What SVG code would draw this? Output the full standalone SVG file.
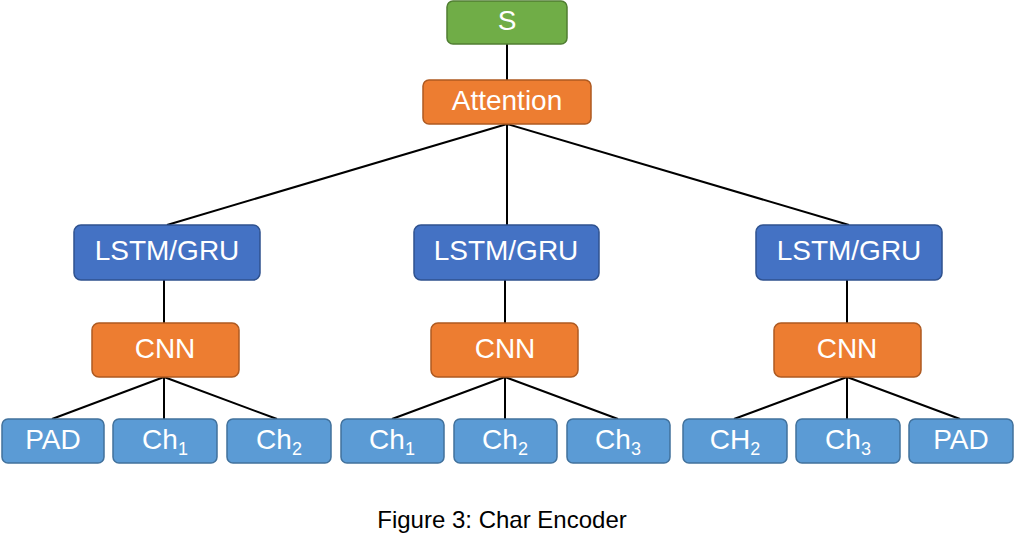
<svg xmlns="http://www.w3.org/2000/svg" width="1016" height="542" viewBox="0 0 1016 542">
<style>
rect{stroke-width:1.5}
.g{fill:#70AD47;stroke:#507E32}
.o{fill:#ED7D31;stroke:#AE5A21}
.b{fill:#4472C4;stroke:#2F528F}
.l{fill:#5B9BD5;stroke:#41719C}
text{font-family:"Liberation Sans",Arial,sans-serif;fill:#fff;font-size:28px;text-anchor:middle}
.s{font-size:18px}
.cap{fill:#000;font-size:24px}
#edges line{stroke:#000;stroke-width:2}
</style>
<rect width="1016" height="542" fill="#fff" style="stroke:none"/>
<g id="edges">
<line x1="507" y1="44" x2="507" y2="80"/>
<line x1="507" y1="124" x2="167" y2="225"/>
<line x1="507" y1="124" x2="507" y2="225"/>
<line x1="507" y1="124" x2="849" y2="225"/>
<line x1="164" y1="280" x2="164" y2="323"/>
<line x1="505" y1="280" x2="505" y2="323"/>
<line x1="847" y1="280" x2="847" y2="323"/>
<line x1="164" y1="377" x2="52" y2="419"/>
<line x1="164" y1="377" x2="164" y2="419"/>
<line x1="164" y1="377" x2="277" y2="419"/>
<line x1="505" y1="377" x2="392" y2="419"/>
<line x1="505" y1="377" x2="505" y2="419"/>
<line x1="505" y1="377" x2="618" y2="419"/>
<line x1="847" y1="377" x2="734" y2="419"/>
<line x1="847" y1="377" x2="847" y2="419"/>
<line x1="847" y1="377" x2="960" y2="419"/>
</g>
<g id="S"><rect class="g" x="447" y="1" width="120" height="43" rx="6"/><text x="507" y="30">S</text></g>
<g id="attention"><rect class="o" x="423" y="80" width="168" height="44" rx="6"/><text x="507" y="110">Attention</text></g>
<g id="lstm1"><rect class="b" x="74" y="225" width="186" height="55" rx="7"/><text x="167" y="260">LSTM/GRU</text></g>
<g id="lstm2"><rect class="b" x="414" y="225" width="185" height="55" rx="7"/><text x="506" y="260">LSTM/GRU</text></g>
<g id="lstm3"><rect class="b" x="756" y="225" width="186" height="55" rx="7"/><text x="849" y="260">LSTM/GRU</text></g>
<g id="cnn1"><rect class="o" x="92" y="323" width="147" height="54" rx="7"/><text x="165" y="358">CNN</text></g>
<g id="cnn2"><rect class="o" x="431" y="323" width="147" height="54" rx="7"/><text x="505" y="358">CNN</text></g>
<g id="cnn3"><rect class="o" x="774" y="323" width="147" height="54" rx="7"/><text x="847" y="358">CNN</text></g>
<g id="pad1"><rect class="l" x="2" y="419" width="102" height="44" rx="6"/><text x="53" y="449">PAD</text></g>
<g id="ch1a"><rect class="l" x="113" y="419" width="104" height="44" rx="6"/><text x="165" y="449">Ch<tspan class="s" dy="6">1</tspan></text></g>
<g id="ch2a"><rect class="l" x="227" y="419" width="104" height="44" rx="6"/><text x="279" y="449">Ch<tspan class="s" dy="6">2</tspan></text></g>
<g id="ch1b"><rect class="l" x="341" y="419" width="103" height="44" rx="6"/><text x="392" y="449">Ch<tspan class="s" dy="6">1</tspan></text></g>
<g id="ch2b"><rect class="l" x="454" y="419" width="103" height="44" rx="6"/><text x="505" y="449">Ch<tspan class="s" dy="6">2</tspan></text></g>
<g id="ch3b"><rect class="l" x="567" y="419" width="103" height="44" rx="6"/><text x="618" y="449">Ch<tspan class="s" dy="6">3</tspan></text></g>
<g id="CH2c"><rect class="l" x="683" y="419" width="104" height="44" rx="6"/><text x="735" y="449">CH<tspan class="s" dy="6">2</tspan></text></g>
<g id="ch3c"><rect class="l" x="796" y="419" width="104" height="44" rx="6"/><text x="848" y="449">Ch<tspan class="s" dy="6">3</tspan></text></g>
<g id="pad3"><rect class="l" x="909" y="419" width="104" height="44" rx="6"/><text x="961" y="449">PAD</text></g>
<text class="cap" x="502" y="528">Figure 3: Char Encoder</text>
</svg>
